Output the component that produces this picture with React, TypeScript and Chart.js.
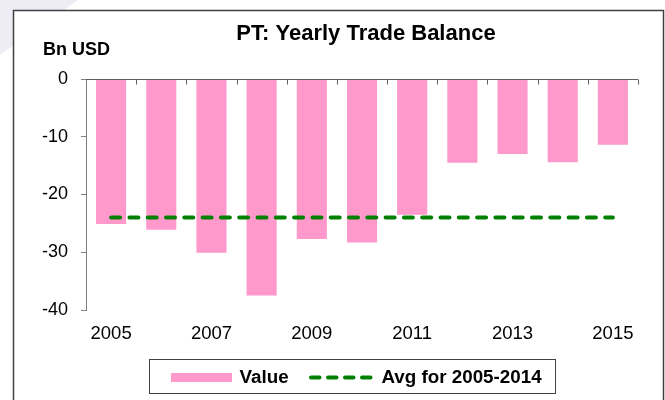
import React, { useEffect, useRef } from "react";
import { Chart, registerables } from "chart.js";

Chart.register(...registerables);

const years = ["2005", "2006", "2007", "2008", "2009", "2010", "2011", "2012", "2013", "2014", "2015"];
const tradeBalance = [-25.1, -26.1, -30.1, -37.5, -27.7, -28.3, -23.5, -14.5, -13.0, -14.4, -11.4];
const avg2005to2014 = [-24.0, -24.0, -24.0, -24.0, -24.0, -24.0, -24.0, -24.0, -24.0, -24.0, -24.0];
const yMin = -40;
const yMax = 0;
const yStep = 10;
const titleText = "PT: Yearly Trade Balance";
const unitText = "Bn USD";
const seriesLabels = ["Value", "Avg for 2005-2014"];

const FONT = "'Liberation Sans', Arial, sans-serif";
const PINK = "#FF99CC";
const GREEN = "#008000";

const decorPlugin = {
  id: "decor",
  beforeDraw(chart: any) {
    const ctx = chart.ctx;
    ctx.save();
    ctx.fillStyle = "#ffffff";
    ctx.fillRect(0, 0, chart.width, chart.height);
    ctx.fillStyle = "#EEEDF6";
    ctx.beginPath();
    ctx.moveTo(0, 0);
    ctx.lineTo(78, 0);
    ctx.lineTo(0, 55);
    ctx.closePath();
    ctx.fill();
    ctx.fillStyle = "#ffffff";
    ctx.fillRect(13.5, 10.5, 650, 400);
    ctx.strokeStyle = "#404040";
    ctx.lineWidth = 1.5;
    ctx.strokeRect(13.5, 10.5, 650, 400);
    ctx.restore();
  },
  afterDatasetsDraw(chart: any) {
    const ctx = chart.ctx;
    const x = chart.scales.x;
    const y = chart.scales.y;
    const y0 = Math.round(y.getPixelForValue(0)) + 0.5;
    ctx.save();
    ctx.strokeStyle = "#606060";
    ctx.lineWidth = 1;
    ctx.beginPath();
    ctx.moveTo(chart.chartArea.left, y0);
    ctx.lineTo(chart.chartArea.right, y0);
    const n = years.length;
    for (let i = 0; i < n; i++) {
      const half = (x.getPixelForValue(1) - x.getPixelForValue(0)) / 2;
      const bx = Math.round(x.getPixelForValue(i) + half) + 0.5;
      ctx.moveTo(bx, y0);
      ctx.lineTo(bx, y0 + 5);
    }
    ctx.stroke();
    ctx.restore();
  },
  afterDraw(chart: any) {
    const ctx = chart.ctx;
    ctx.save();
    ctx.fillStyle = "#000";
    ctx.textBaseline = "alphabetic";
    ctx.textAlign = "center";
    ctx.font = `bold 22px ${FONT}`;
    ctx.fillText(titleText, 366, 40);
    ctx.textAlign = "left";
    ctx.font = `bold 18px ${FONT}`;
    ctx.fillText(unitText, 43, 55);

    // legend
    ctx.strokeStyle = "#404040";
    ctx.lineWidth = 1;
    ctx.strokeRect(149.5, 359.5, 406, 34);
    ctx.fillStyle = PINK;
    ctx.fillRect(171, 373, 61, 9);
    ctx.strokeStyle = GREEN;
    ctx.lineWidth = 4;
    ctx.lineCap = "round";
    ctx.setLineDash([8.5, 8.5]);
    ctx.beginPath();
    ctx.moveTo(311, 377.5);
    ctx.lineTo(372, 377.5);
    ctx.stroke();
    ctx.setLineDash([]);
    ctx.fillStyle = "#000";
    ctx.font = `bold 18.8px ${FONT}`;
    ctx.fillText(seriesLabels[0], 239.5, 383);
    ctx.fillText(seriesLabels[1], 381.5, 383);
    ctx.restore();
  },
};

export default function App() {
  const ref = useRef<HTMLCanvasElement | null>(null);
  useEffect(() => {
    if (!ref.current) return;
    const chart = new Chart(ref.current, {
      type: "bar",
      data: {
        labels: years,
        datasets: [
          {
            type: "bar",
            label: seriesLabels[0],
            data: tradeBalance,
            backgroundColor: PINK,
            borderWidth: 0,
            barPercentage: 0.6,
            categoryPercentage: 1,
            order: 2,
          } as any,
          {
            type: "line",
            label: seriesLabels[1],
            data: avg2005to2014,
            borderColor: GREEN,
            backgroundColor: GREEN,
            borderWidth: 4,
            borderDash: [9, 9.3],
            borderCapStyle: "round",
            pointRadius: 0,
            fill: false,
            tension: 0,
            order: 0,
          } as any,
        ],
      },
      options: {
        responsive: false,
        animation: false,
        layout: { padding: { top: 79, right: 27, bottom: 0, left: 0 } },
        plugins: {
          legend: { display: false },
          title: { display: false },
          tooltip: { enabled: false },
        },
        scales: {
          x: {
            grid: { display: false },
            border: { display: false },
            ticks: {
              autoSkip: false,
              maxRotation: 0,
              minRotation: 0,
              padding: 5,
              color: "#000",
              font: { family: FONT, size: 18.5 },
              callback: (_v: any, i: number) => (i % 2 === 0 ? years[i] : ""),
            },
            afterFit: (s: any) => {
              s.height = 90;
            },
          },
          y: {
            min: yMin,
            max: yMax,
            ticks: {
              stepSize: yStep,
              padding: 13,
              color: "#000",
              font: { family: FONT, size: 18 },
            },
            grid: { drawOnChartArea: false, drawTicks: true, tickLength: 5, color: "#808080" },
            border: { display: true, color: "#808080", width: 1 },
            afterFit: (s: any) => {
              s.width = 86;
            },
          },
        },
      } as any,
      plugins: [decorPlugin],
    });
    return () => chart.destroy();
  }, []);
  return (
    <div style={{ position: "fixed", left: 0, top: 0, width: 665, height: 400, background: "#fff" }}>
      <canvas ref={ref} width={665} height={400} style={{ display: "block", width: 665, height: 400 }} />
    </div>
  );
}
